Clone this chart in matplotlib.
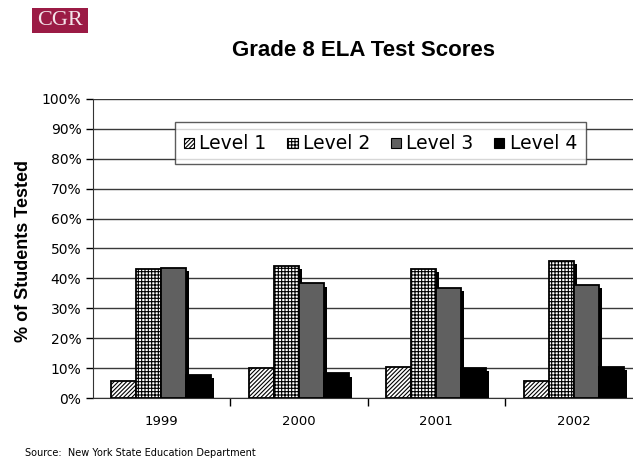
import matplotlib
matplotlib.use("Agg")
from matplotlib import pyplot as plt
from matplotlib import patheffects as pe
from matplotlib.patches import Rectangle
from matplotlib.legend_handler import HandlerPatch
import numpy as np

years = ['1999', '2000', '2001', '2002']
level1 = [5.7, 9.9, 10.4, 5.8]
level2 = [43.0, 44.0, 43.0, 45.8]
level3 = [43.5, 38.3, 36.7, 37.9]
level4 = [7.7, 8.2, 10.1, 10.5]
labels = ['Level 1', 'Level 2', 'Level 3', 'Level 4']

plt.rcParams['hatch.linewidth'] = 0.8

fig = plt.figure(figsize=(6.33, 4.61), dpi=100)
ax = fig.add_axes([92.5 / 633, 63 / 461, 550 / 633, 299 / 461])

styles = [
    dict(facecolor='white', hatch='////////'),
    dict(facecolor='white', hatch='+++++'),
    dict(facecolor='#606060', hatch=None),
    dict(facecolor='black', hatch=None),
]

x = np.arange(len(years))
w = 0.182
shadow = [pe.SimplePatchShadow(offset=(2.2, -2.2), shadow_rgbFace='black', alpha=1.0), pe.Normal()]
bars = []
for i, (vals, st) in enumerate(zip([level1, level2, level3, level4], styles)):
    b = ax.bar(x + (i - 1.5) * w, vals, w, edgecolor='black', linewidth=1.3,
               label=labels[i], zorder=3, **st)
    for p in b:
        p.set_path_effects(shadow)
    bars.append(b)

ax.set_xlim(-0.5, 3.5)
ax.set_ylim(0, 100)
ax.set_yticks(np.arange(0, 101, 10))
ax.set_yticklabels([f'{v}%' for v in range(0, 101, 10)], fontsize=10)
ax.set_xticks(x)
ax.set_xticklabels(years, fontsize=9.5)
ax.tick_params(axis='x', which='major', length=0, pad=12)
ax.set_xticks([0.5, 1.5, 2.5], minor=True)
ax.tick_params(axis='x', which='minor', length=6, width=1)
ax.tick_params(axis='y', length=5, width=1, pad=3)

ax.grid(axis='y', color='#3a3a3a', linewidth=1, zorder=0)
ax.set_axisbelow(True)
for s in ['top', 'right']:
    ax.spines[s].set_visible(False)
ax.spines['left'].set_color('#333333')
ax.spines['bottom'].set_color('#333333')

ax.set_ylabel('% of Students Tested', fontsize=13, fontweight='bold',
              family='Liberation Sans')
ax.yaxis.set_label_coords(-0.11, 0.49)


def square(legend, orig_handle, xdescent, ydescent, width, height, fontsize):
    side = width
    return Rectangle((-xdescent, -ydescent + (height - side) / 2), side, side)


leg = ax.legend(handles=[b[0] for b in bars], labels=labels, ncol=4,
                loc='center', bbox_to_anchor=(0.5236, 0.853),
                fontsize=13.5, frameon=True, fancybox=False,
                borderpad=0.47, handlelength=0.55, handleheight=1.6,
                handletextpad=0.28, columnspacing=1.1,
                handler_map={Rectangle: HandlerPatch(patch_func=square)})
leg.get_frame().set_edgecolor('#333333')
leg.get_frame().set_linewidth(1)
for h in leg.legend_handles:
    h.set_path_effects([pe.Normal()])
    h.set_linewidth(0.8)

fig.text(364 / 633, 1 - 50 / 461, 'Grade 8 ELA Test Scores', fontsize=16,
         fontweight='bold', family='Liberation Sans', ha='center', va='center')

fig.text(25 / 633, 1 - 453 / 461, 'Source:  New York State Education Department',
         fontsize=7, ha='left', va='center')

fig.patches.append(Rectangle((32 / 633, 1 - 33 / 461), 56 / 633, 25 / 461,
                             transform=fig.transFigure, facecolor='#9b1b45',
                             edgecolor='none'))
fig.text(60 / 633, 1 - 20.5 / 461, 'CGR', fontsize=16, family='Liberation Serif',
         color='#f4e4ea', ha='center', va='center')

fig.savefig('out.png', dpi=100)
